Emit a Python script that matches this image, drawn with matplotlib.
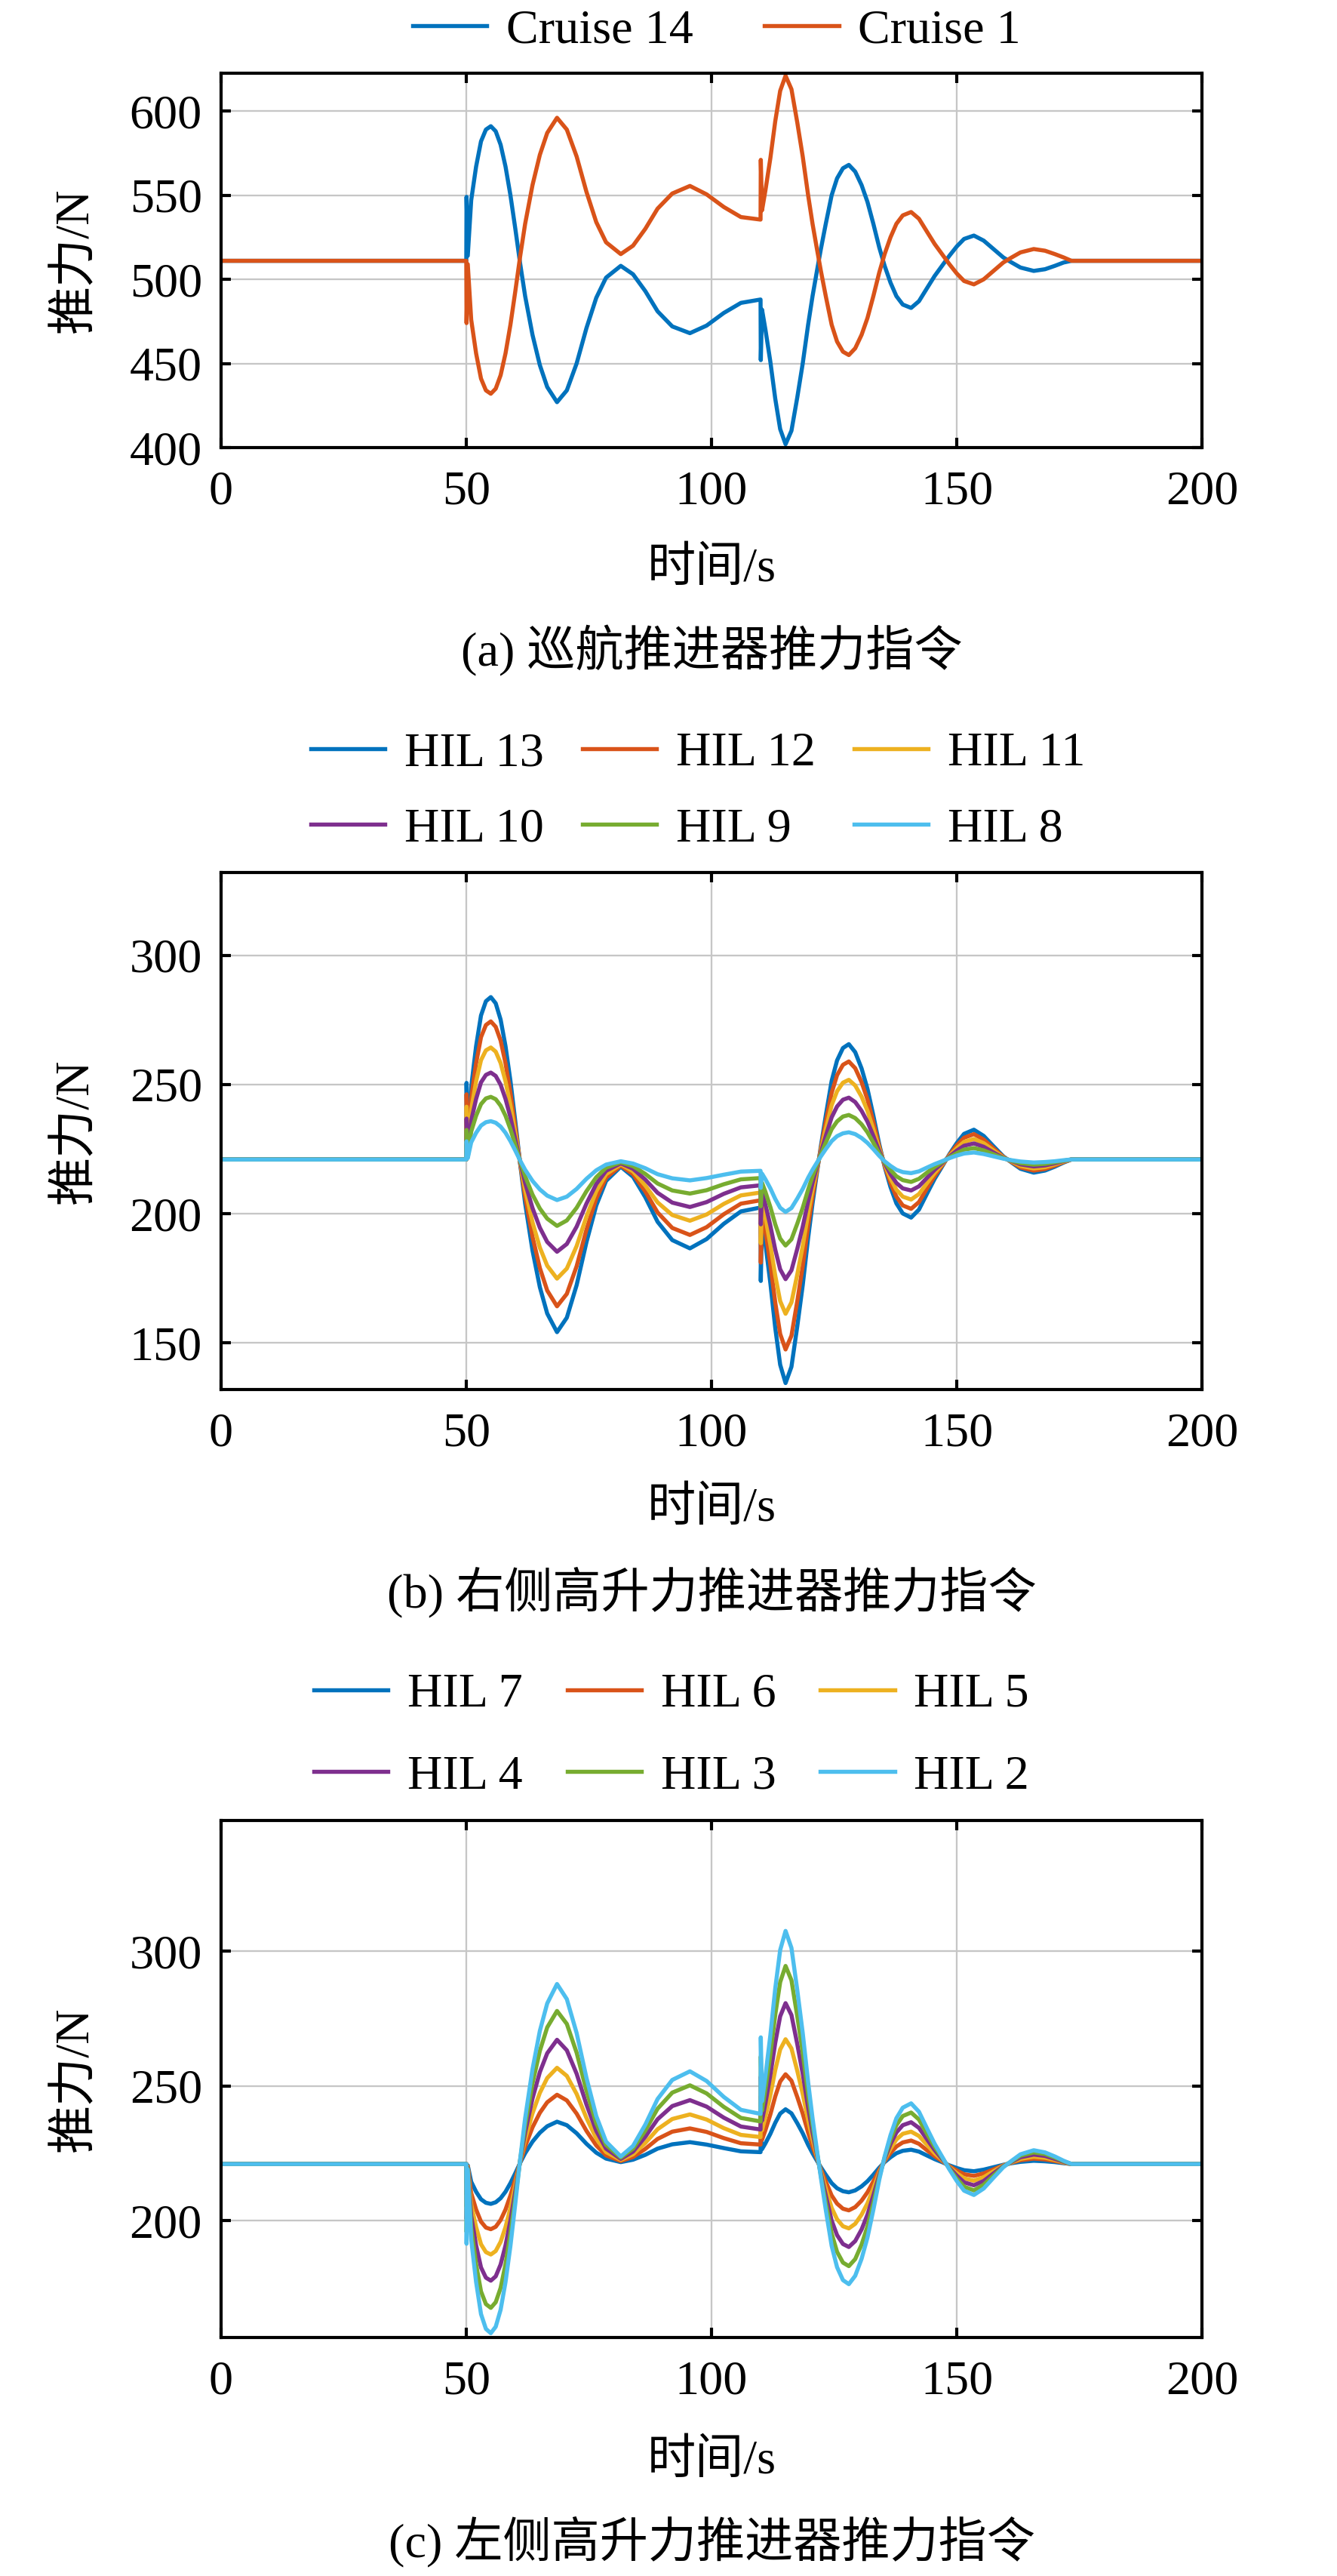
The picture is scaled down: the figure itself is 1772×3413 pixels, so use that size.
import matplotlib
matplotlib.use('Agg')
import matplotlib.pyplot as plt
from matplotlib import font_manager

# time axis (s), shared by all three panels
t = [0, 50, 50.05, 50.3, 51, 52, 53, 54, 55, 56,
     57, 58, 59, 60, 61, 62, 63.5, 65, 66.5, 68.5,
     70.5, 72.5, 74.5, 76.5, 78.5, 81.5, 84, 86.5, 89, 92,
     95.6, 99, 102.5, 106, 110, 110.05, 110.3, 111, 112, 113,
     114, 115.1, 116.3, 117.5, 118.6, 119.7, 120.6, 121.5, 122.3, 123.3,
     124.5, 125.6, 126.8, 128, 129.3, 130.6, 131.8, 133, 134.2, 135.3,
     136.5, 137.7, 139, 140.7, 142.3, 144, 145.5, 147, 148.5, 150,
     151.5, 153.5, 155.5, 157.5, 159.5, 161.2, 163, 165.7, 168, 170,
     171.8, 173.4, 200]

# (a) cruise thrusters
cruise14 = [511, 511, 549, 514, 547, 567, 582, 589, 591, 588,
            580, 567, 550, 530, 509, 490, 467, 449, 436, 427,
            434, 450, 471, 489, 501, 508, 503, 493, 481, 472,
            468, 472.5, 480, 486, 488, 452, 482, 470, 451, 429,
            411, 402, 410, 430, 450, 473, 490, 505, 518, 533,
            550, 560, 566, 568, 564, 556, 546, 533, 519, 508,
            498, 490, 485, 483, 487, 495, 502, 508, 514, 519.5,
            524, 526, 523, 518, 513, 510, 507, 505, 506, 508,
            510, 511, 511]
cruise1 = [511, 511, 474, 509, 476, 456, 441, 434, 432, 435,
           443, 456, 473, 493, 514, 533, 556, 574, 587, 596,
           589, 573, 552, 534, 522, 515, 520, 530, 542, 551,
           555.5, 550.5, 543, 537, 535.5, 571, 541, 553, 572, 594,
           612, 621, 613, 593, 573, 550, 533, 518, 505, 490,
           473, 463, 457, 455, 459, 467, 477, 490, 504, 515,
           525, 533, 538, 540, 536, 528, 521, 515, 509, 503.5,
           499, 497, 500, 505, 510, 513, 516, 518, 517, 515,
           513, 511, 511]

# (b) right high-lift thrusters
hil13 = [221, 221, 250.6, 223.0, 249.0, 264.8, 276.7, 282.2, 283.8, 281.4,
         275.1, 264.8, 251.4, 235.6, 219.0, 204.0, 185.8, 171.6, 161.4, 154.2,
         159.8, 172.4, 189.0, 203.2, 212.7, 218.2, 214.3, 206.4, 196.9, 189.8,
         186.6, 190.2, 196.1, 200.9, 202.4, 174.0, 197.7, 188.2, 173.2, 155.8,
         141.6, 134.5, 140.8, 156.6, 172.4, 190.6, 204.0, 215.9, 226.1, 238.0,
         251.4, 259.3, 264.1, 265.6, 262.5, 256.2, 248.3, 238.0, 226.9, 218.2,
         210.3, 204.0, 200.1, 198.5, 201.6, 208.0, 213.5, 218.2, 223.0, 227.3,
         230.9, 232.5, 230.1, 226.1, 222.2, 219.8, 217.4, 215.9, 216.7, 218.2,
         219.8, 221, 221]
hil12 = [221, 221, 246.2, 222.7, 244.8, 258.2, 268.3, 273.0, 274.4, 272.3,
         267.0, 258.2, 246.8, 233.4, 219.3, 206.6, 191.1, 179.0, 170.3, 164.2,
         169.0, 179.7, 193.8, 205.9, 213.9, 218.6, 215.3, 208.6, 200.5, 194.5,
         191.8, 194.8, 199.8, 203.9, 205.2, 181.1, 201.2, 193.1, 180.4, 165.6,
         153.5, 147.5, 152.8, 166.3, 179.7, 195.2, 206.6, 216.7, 225.3, 235.5,
         246.8, 253.6, 257.6, 258.9, 256.3, 250.9, 244.2, 235.5, 226.0, 218.6,
         211.9, 206.6, 203.2, 201.9, 204.5, 210.0, 214.6, 218.6, 222.7, 226.4,
         229.4, 230.8, 228.7, 225.3, 222.0, 220.0, 217.9, 216.7, 217.3, 218.6,
         220.0, 221, 221]
hil11 = [221, 221, 241.4, 222.4, 240.3, 251.2, 259.4, 263.2, 264.3, 262.7,
         258.3, 251.2, 242.0, 231.1, 219.6, 209.3, 196.7, 186.9, 179.9, 174.9,
         178.8, 187.5, 198.9, 208.7, 215.3, 219.1, 216.4, 210.9, 204.4, 199.5,
         197.3, 199.7, 203.8, 207.1, 208.2, 188.6, 204.9, 198.4, 188.0, 176.0,
         166.2, 161.3, 165.7, 176.6, 187.5, 200.0, 209.3, 217.5, 224.5, 232.7,
         242.0, 247.4, 250.7, 251.8, 249.6, 245.3, 239.8, 232.7, 225.1, 219.1,
         213.6, 209.3, 206.6, 205.5, 207.6, 212.0, 215.8, 219.1, 222.4, 225.3,
         227.8, 228.9, 227.3, 224.5, 221.8, 220.2, 218.5, 217.5, 218.0, 219.1,
         220.2, 221, 221]
hil10 = [221, 221, 236.8, 222.1, 236.0, 244.4, 250.8, 253.7, 254.6, 253.3,
         249.9, 244.4, 237.3, 228.8, 219.9, 211.9, 202.2, 194.6, 189.1, 185.3,
         188.3, 195.0, 203.9, 211.5, 216.6, 219.5, 217.4, 213.2, 208.1, 204.3,
         202.6, 204.5, 207.7, 210.2, 211.0, 195.9, 208.5, 203.5, 195.4, 186.1,
         178.5, 174.7, 178.1, 186.5, 195.0, 204.7, 211.9, 218.3, 223.7, 230.1,
         237.3, 241.5, 244.1, 244.9, 243.2, 239.8, 235.6, 230.1, 224.2, 219.5,
         215.3, 211.9, 209.8, 209.0, 210.6, 214.0, 217.0, 219.5, 222.1, 224.4,
         226.3, 227.2, 225.9, 223.7, 221.6, 220.4, 219.1, 218.3, 218.7, 219.5,
         220.4, 221, 221]
hil9 = [221, 221, 232.4, 221.8, 231.8, 237.9, 242.4, 244.6, 245.2, 244.3,
        241.8, 237.9, 232.7, 226.6, 220.2, 214.5, 207.4, 202.0, 198.1, 195.3,
        197.4, 202.3, 208.7, 214.1, 217.8, 219.9, 218.4, 215.4, 211.7, 209.0,
        207.8, 209.1, 211.4, 213.3, 213.8, 202.9, 212.0, 208.4, 202.6, 195.9,
        190.4, 187.7, 190.1, 196.2, 202.3, 209.3, 214.5, 219.0, 223.0, 227.5,
        232.7, 235.7, 237.6, 238.2, 237.0, 234.6, 231.5, 227.5, 223.3, 219.9,
        216.9, 214.5, 213.0, 212.3, 213.5, 216.0, 218.1, 219.9, 221.8, 223.4,
        224.8, 225.4, 224.5, 223.0, 221.5, 220.5, 219.6, 219.0, 219.3, 219.9,
        220.5, 221, 221]
hil8 = [221, 221, 228.0, 221.5, 227.6, 231.3, 234.1, 235.4, 235.8, 235.2,
        233.7, 231.3, 228.1, 224.4, 220.5, 217.0, 212.7, 209.4, 207.0, 205.3,
        206.6, 209.6, 213.5, 216.8, 219.0, 220.3, 219.4, 217.6, 215.3, 213.7,
        212.9, 213.8, 215.1, 216.3, 216.6, 210.0, 215.5, 213.3, 209.8, 205.7,
        202.3, 200.7, 202.2, 205.9, 209.6, 213.9, 217.0, 219.8, 222.2, 225.0,
        228.1, 230.0, 231.1, 231.5, 230.8, 229.3, 227.4, 225.0, 222.4, 220.3,
        218.5, 217.0, 216.1, 215.7, 216.4, 217.9, 219.2, 220.3, 221.5, 222.5,
        223.3, 223.7, 223.1, 222.2, 221.3, 220.7, 220.2, 219.8, 220.0, 220.3,
        220.7, 221, 221]

# (c) left high-lift thrusters
hil7 = [221, 221, 214.0, 220.5, 214.4, 210.7, 207.9, 206.6, 206.2, 206.8,
        208.3, 210.7, 213.9, 217.6, 221.5, 225.0, 229.3, 232.6, 235.0, 236.7,
        235.4, 232.4, 228.5, 225.2, 223.0, 221.7, 222.6, 224.4, 226.7, 228.3,
        229.1, 228.2, 226.9, 225.7, 225.4, 232.0, 226.5, 228.7, 232.2, 236.3,
        239.7, 241.3, 239.8, 236.1, 232.4, 228.1, 225.0, 222.2, 219.8, 217.0,
        213.9, 212.0, 210.9, 210.5, 211.2, 212.7, 214.6, 217.0, 219.6, 221.7,
        223.5, 225.0, 225.9, 226.3, 225.6, 224.1, 222.8, 221.7, 220.5, 219.5,
        218.7, 218.3, 218.9, 219.8, 220.7, 221.3, 221.8, 222.2, 222.0, 221.7,
        221.3, 221, 221]
hil6 = [221, 221, 209.6, 220.2, 210.2, 204.1, 199.6, 197.4, 196.8, 197.7,
        200.2, 204.1, 209.3, 215.4, 221.8, 227.5, 234.6, 240.0, 243.9, 246.7,
        244.6, 239.7, 233.3, 227.9, 224.2, 222.1, 223.6, 226.6, 230.3, 233.0,
        234.2, 232.9, 230.6, 228.7, 228.2, 239.1, 230.0, 233.6, 239.4, 246.1,
        251.6, 254.3, 251.9, 245.8, 239.7, 232.7, 227.5, 223.0, 219.0, 214.5,
        209.3, 206.3, 204.4, 203.8, 205.0, 207.4, 210.5, 214.5, 218.7, 222.1,
        225.1, 227.5, 229.0, 229.7, 228.5, 226.0, 223.9, 222.1, 220.2, 218.6,
        217.2, 216.6, 217.5, 219.0, 220.5, 221.5, 222.4, 223.0, 222.7, 222.1,
        221.5, 221, 221]
hil5 = [221, 221, 205.2, 219.9, 206.0, 197.6, 191.2, 188.3, 187.4, 188.7,
        192.1, 197.6, 204.7, 213.2, 222.1, 230.1, 239.8, 247.4, 252.9, 256.7,
        253.7, 247.0, 238.1, 230.5, 225.4, 222.5, 224.6, 228.8, 233.9, 237.7,
        239.4, 237.5, 234.3, 231.8, 231.0, 246.1, 233.5, 238.5, 246.6, 255.9,
        263.5, 267.3, 263.9, 255.5, 247.0, 237.3, 230.1, 223.7, 218.3, 211.9,
        204.7, 200.5, 197.9, 197.1, 198.8, 202.2, 206.4, 211.9, 217.8, 222.5,
        226.7, 230.1, 232.2, 233.0, 231.4, 228.0, 225.0, 222.5, 219.9, 217.6,
        215.7, 214.8, 216.1, 218.3, 220.4, 221.6, 222.9, 223.7, 223.3, 222.5,
        221.6, 221, 221]
hil4 = [221, 221, 200.6, 219.6, 201.7, 190.8, 182.6, 178.8, 177.7, 179.3,
        183.7, 190.8, 200.0, 210.9, 222.4, 232.7, 245.3, 255.1, 262.1, 267.1,
        263.2, 254.5, 243.1, 233.3, 226.7, 222.9, 225.6, 231.1, 237.6, 242.5,
        244.7, 242.3, 238.2, 234.9, 233.8, 253.4, 237.1, 243.6, 254.0, 266.0,
        275.8, 280.7, 276.3, 265.4, 254.5, 242.0, 232.7, 224.5, 217.5, 209.3,
        200.0, 194.6, 191.3, 190.2, 192.4, 196.7, 202.2, 209.3, 216.9, 222.9,
        228.4, 232.7, 235.4, 236.5, 234.4, 230.0, 226.2, 222.9, 219.6, 216.7,
        214.2, 213.1, 214.7, 217.5, 220.2, 221.8, 223.5, 224.5, 224.0, 222.9,
        221.8, 221, 221]
hil3 = [221, 221, 195.8, 219.3, 197.2, 183.8, 173.7, 169.0, 167.6, 169.7,
        175.0, 183.8, 195.2, 208.6, 222.7, 235.4, 250.9, 263.0, 271.7, 277.8,
        273.0, 262.3, 248.2, 236.1, 228.1, 223.4, 226.7, 233.4, 241.5, 247.5,
        250.2, 247.2, 242.2, 238.1, 236.8, 260.9, 240.8, 248.9, 261.6, 276.4,
        288.5, 294.5, 289.2, 275.7, 262.3, 246.8, 235.4, 225.3, 216.7, 206.5,
        195.2, 188.4, 184.4, 183.1, 185.7, 191.1, 197.8, 206.5, 216.0, 223.4,
        230.1, 235.4, 238.8, 240.1, 237.5, 232.0, 227.4, 223.4, 219.3, 215.6,
        212.6, 211.2, 213.3, 216.7, 220.0, 222.0, 224.1, 225.3, 224.7, 223.4,
        222.0, 221, 221]
hil2 = [221, 221, 191.4, 219.0, 193.0, 177.2, 165.3, 159.8, 158.2, 160.6,
        166.9, 177.2, 190.6, 206.4, 223.0, 238.0, 256.2, 270.4, 280.6, 287.8,
        282.2, 269.6, 253.0, 238.8, 229.3, 223.8, 227.7, 235.6, 245.1, 252.2,
        255.4, 251.8, 245.9, 241.1, 239.6, 268.0, 244.3, 253.8, 268.8, 286.2,
        300.4, 307.5, 301.2, 285.4, 269.6, 251.4, 238.0, 226.1, 215.9, 204.0,
        190.6, 182.7, 177.9, 176.4, 179.5, 185.8, 193.7, 204.0, 215.1, 223.8,
        231.7, 238.0, 241.9, 243.5, 240.4, 234.0, 228.5, 223.8, 219.0, 214.7,
        211.1, 209.5, 211.9, 215.9, 219.8, 222.2, 224.6, 226.1, 225.3, 223.8,
        222.2, 221, 221]

labels_a = ['Cruise 14', 'Cruise 1']
labels_b = ['HIL 13', 'HIL 12', 'HIL 11', 'HIL 10', 'HIL 9', 'HIL 8']
labels_c = ['HIL 7', 'HIL 6', 'HIL 5', 'HIL 4', 'HIL 3', 'HIL 2']
captions = ['(a) 巡航推进器推力指令', '(b) 右侧高升力推进器推力指令', '(c) 左侧高升力推进器推力指令']

colors = ['#0072BD', '#D95319', '#EDB120', '#7E2F8E', '#77AC30', '#4DBEEE']

names = {f.name for f in font_manager.fontManager.ttflist}
cjk = 'Noto Serif CJK SC' if 'Noto Serif CJK SC' in names else 'Noto Sans CJK SC'
plt.rcParams['font.family'] = ['Liberation Serif', cjk]
plt.rcParams['axes.unicode_minus'] = False
FS = 15.4

W, H = 1772, 3413
fig = plt.figure(figsize=(W / 300, H / 300), dpi=300)


def px(x, y):
    return x / W, 1 - y / H


def make_axes(top, bottom, ylim, yticks):
    ax = fig.add_axes([293 / W, 1 - bottom / H, 1300 / W, (bottom - top) / H])
    ax.set_xlim(0, 200)
    ax.set_ylim(*ylim)
    ax.set_xticks([0, 50, 100, 150, 200])
    ax.set_yticks(yticks)
    ax.grid(True, color='#c6c6c6', lw=0.55)
    ax.set_axisbelow(True)
    ax.tick_params(direction='in', length=3.1, width=1.0, top=True, right=True,
                   labelsize=FS)
    ax.tick_params(axis='x', pad=7.3)
    ax.tick_params(axis='y', pad=6.0)
    for s in ax.spines.values():
        s.set_linewidth(1.0)
    return ax


panels = [
    (97, 593, (400, 622.5), [400, 450, 500, 550, 600], [cruise14, cruise1], labels_a),
    (1156, 1841, (132, 332), [150, 200, 250, 300], [hil13, hil12, hil11, hil10, hil9, hil8], labels_b),
    (2412, 3097, (156.6, 348.5), [200, 250, 300], [hil7, hil6, hil5, hil4, hil3, hil2], labels_c),
]
xlabel_y = [755, 2000, 3262]
caption_y = [862, 2110, 3368]
legend_pos = [(950, 41), (925, 1049), (890, 2300)]
legend_cs = [1.48, 0.8, 0.92]
legend_ls = [0.65, 0.65, 0.78]

for i, (top, bottom, ylim, yticks, series, labels) in enumerate(panels):
    ax = make_axes(top, bottom, ylim, yticks)
    lines = []
    for k, y in enumerate(series):
        ln, = ax.plot(t, y, color=colors[k], lw=1.3, label=labels[k],
                      solid_joinstyle='round')
        lines.append(ln)
    fig.text(*px(100, (top + bottom) / 2), '推力/N', rotation=90,
             ha='center', va='center', fontsize=FS)
    fig.text(*px(943, xlabel_y[i]), '时间/s', ha='center', va='center', fontsize=FS)
    fig.text(*px(943, caption_y[i]), captions[i], ha='center', va='center', fontsize=FS)
    if len(lines) == 6:
        order = [0, 3, 1, 4, 2, 5]
        ncol = 3
    else:
        order = [0, 1]
        ncol = 2
    fig.legend([lines[j] for j in order], [labels[j] for j in order],
               loc='center', bbox_to_anchor=px(*legend_pos[i]), ncol=ncol,
               frameon=False, fontsize=FS, handlelength=1.53, handletextpad=0.4,
               columnspacing=legend_cs[i], labelspacing=legend_ls[i], borderpad=0,
               borderaxespad=0)

fig.savefig('out.png', dpi=300)
